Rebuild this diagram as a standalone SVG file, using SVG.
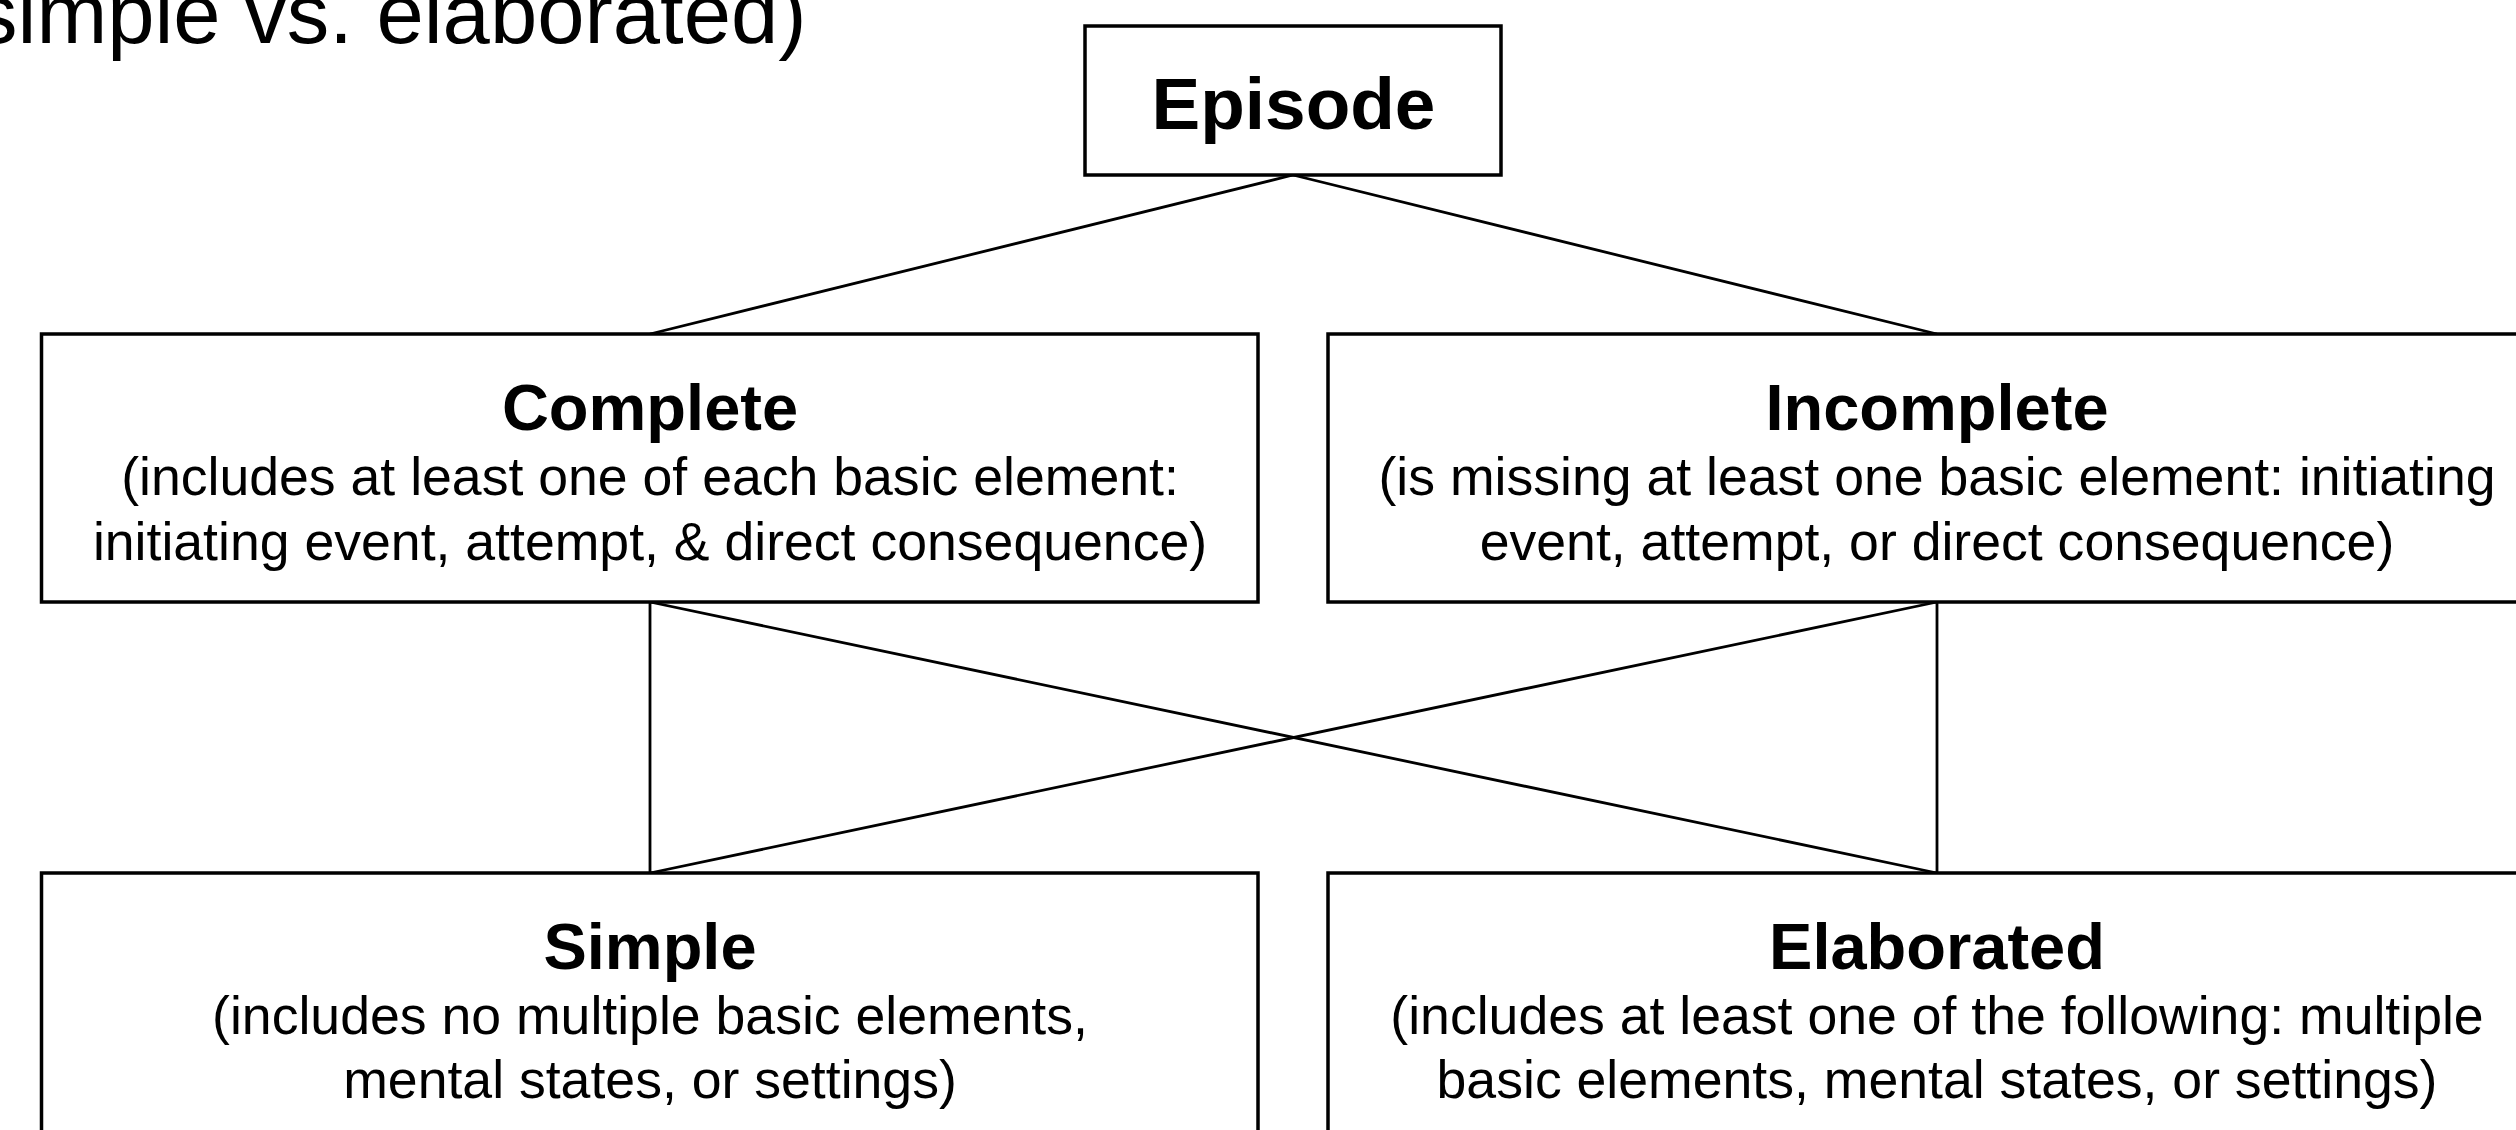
<svg xmlns="http://www.w3.org/2000/svg" width="2516" height="1130" viewBox="0 0 2516 1130">
  <style>
    .box { fill: #ffffff; stroke: #000000; stroke-width: 3.5; }
    .conn { stroke: #000000; stroke-width: 2.8; fill: none; }
    .title { font-family: "Liberation Sans", Arial, sans-serif; font-weight: bold; fill: #000; text-anchor: middle; }
    .body { font-family: "Liberation Sans", Arial, sans-serif; font-size: 53.6px; fill: #000; text-anchor: middle; }
    .head { font-family: "Liberation Sans", Arial, sans-serif; font-size: 85px; fill: #000; }
  </style>
  <rect x="0" y="0" width="2516" height="1130" fill="#ffffff"/>
  <text class="head" x="-25" y="43">simple vs. elaborated)</text>

  <g id="connectors">
    <line class="conn" x1="1293" y1="175" x2="650" y2="334"/>
    <line class="conn" x1="1293" y1="175" x2="1937" y2="334"/>
    <line class="conn" x1="650" y1="602" x2="650" y2="873"/>
    <line class="conn" x1="650" y1="602" x2="1937" y2="873"/>
    <line class="conn" x1="1937" y1="602" x2="650" y2="873"/>
    <line class="conn" x1="1937" y1="602" x2="1937" y2="873"/>
  </g>

  <g id="episode">
    <rect class="box" x="1085" y="26" width="416" height="149"/>
    <text class="title" x="1293.5" y="128.5" font-size="73">Episode</text>
  </g>

  <g id="complete">
    <rect class="box" x="41.5" y="334" width="1216.5" height="268"/>
    <text class="title" x="650" y="430" font-size="65">Complete</text>
    <text class="body" x="650" y="495">(includes at least one of each basic element:</text>
    <text class="body" x="650" y="559.5">initiating event, attempt, &amp; direct consequence)</text>
  </g>

  <g id="incomplete">
    <rect class="box" x="1328" y="334" width="1218" height="268"/>
    <text class="title" x="1937" y="430" font-size="65">Incomplete</text>
    <text class="body" x="1937" y="495">(is missing at least one basic element: initiating</text>
    <text class="body" x="1937" y="559.5">event, attempt, or direct consequence)</text>
  </g>

  <g id="simple">
    <rect class="box" x="41.5" y="873" width="1216.5" height="300"/>
    <text class="title" x="650" y="968.5" font-size="65">Simple</text>
    <text class="body" x="650" y="1033.5">(includes no multiple basic elements,</text>
    <text class="body" x="650" y="1098">mental states, or settings)</text>
  </g>

  <g id="elaborated">
    <rect class="box" x="1328" y="873" width="1218" height="300"/>
    <text class="title" x="1937" y="968.5" font-size="65">Elaborated</text>
    <text class="body" x="1937" y="1033.5">(includes at least one of the following: multiple</text>
    <text class="body" x="1937" y="1098">basic elements, mental states, or settings)</text>
  </g>
</svg>
